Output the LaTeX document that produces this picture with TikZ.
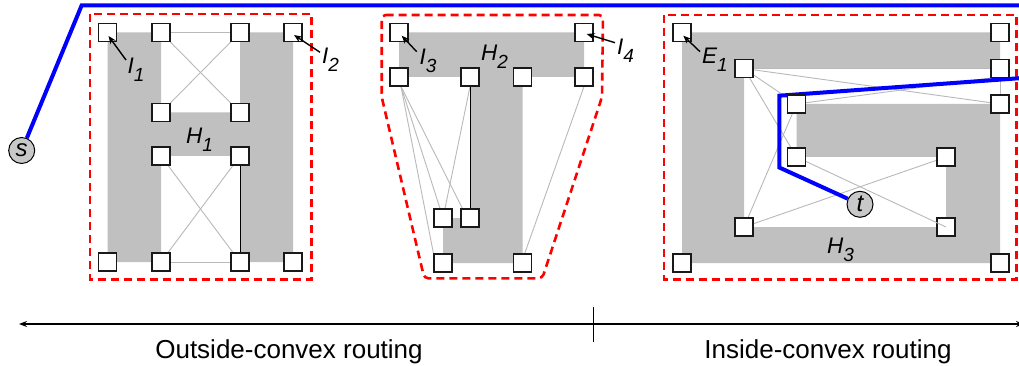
\documentclass[tikz,border=0pt]{standalone}
\usepackage{fontspec}
\setmainfont{Liberation Sans}
\usetikzlibrary{arrows.meta,calc}
\pgfdeclarelayer{bg}
\pgfdeclarelayer{edges}
\pgfdeclarelayer{front}
\pgfsetlayers{bg,edges,main,front}
% italic label with a lowered index, e.g. I_1
\newcommand{\sublab}[2]{\fontsize{22.5}{22.5}\selectfont\itshape #1\raisebox{-8pt}{\fontsize{19}{19}\selectfont #2}}
\definecolor{obst}{RGB}{192,192,192}
\definecolor{vis}{RGB}{185,185,185}
\definecolor{route}{RGB}{0,0,255}
\definecolor{hull}{RGB}{255,0,0}
\definecolor{term}{RGB}{200,200,200}
\begin{document}
\begin{tikzpicture}[x=1pt,y=-1pt,
  vtx/.style={draw=black!90,fill=white,minimum size=18pt,inner sep=0pt,line width=1.1pt},
  obstacle/.style={fill=obst,draw=none},
  hullline/.style={draw=hull,line width=2.6pt,dash pattern=on 8pt off 5pt},
  visedge/.style={draw=vis,line width=0.9pt},
  tightedge/.style={draw=black,line width=1pt},
  routeline/.style={draw=route,line width=4pt},
  terminal/.style={circle,draw=black,fill=term,line width=1pt,minimum size=26pt,inner sep=0pt,font=\fontsize{24}{24}\selectfont\itshape},
  tag/.style={inner sep=0pt,anchor=base west},
  pointer/.style={draw=black,line width=1.4pt,-{Stealth[length=8pt,width=6.5pt]}},
  caption/.style={font=\fontsize{26}{26}\selectfont,anchor=base,inner sep=0pt},
  axis/.style={draw=black,line width=1.3pt}
]
\useasboundingbox (0,0) rectangle (1019,366);
\begin{pgfonlayer}{bg}
  \fill[white] (0,0) rectangle (1019,366);
\end{pgfonlayer}

% ---------- obstacle H1 vertices ----------
\node[vtx] (L1)  at (107.5,32.5) {};
\node[vtx] (L2)  at (161,32.5) {};
\node[vtx] (L3)  at (240,32.5) {};
\node[vtx] (L4)  at (293,32.5) {};
\node[vtx] (L5)  at (161,112.5) {};
\node[vtx] (L6)  at (240,112.5) {};
\node[vtx] (L7)  at (161,156) {};
\node[vtx] (L8)  at (240,156) {};
\node[vtx] (L9)  at (107.5,262) {};
\node[vtx] (L10) at (161,262) {};
\node[vtx] (L11) at (240,262) {};
\node[vtx] (L12) at (293,262) {};

% ---------- obstacle H2 vertices ----------
\node[vtx] (M1)  at (399,32.5) {};
\node[vtx] (M2)  at (584,32.5) {};
\node[vtx] (M3)  at (399,77) {};
\node[vtx] (M4)  at (470,77) {};
\node[vtx] (M5)  at (522.7,77) {};
\node[vtx] (M6)  at (584,77) {};
\node[vtx] (M7)  at (443,218) {};
\node[vtx] (M8)  at (470,218) {};
\node[vtx] (M9)  at (443,263) {};
\node[vtx] (M10) at (522.7,263) {};

% ---------- obstacle H3 vertices ----------
\node[vtx] (R1)  at (682,32.5) {};
\node[vtx] (R2)  at (1000,32.5) {};
\node[vtx] (R3)  at (744,68.5) {};
\node[vtx] (R4)  at (1000,68.5) {};
\node[vtx] (R5)  at (796.5,104) {};
\node[vtx] (R6)  at (1000,104) {};
\node[vtx] (R7)  at (796.5,157) {};
\node[vtx] (R8)  at (946,157) {};
\node[vtx] (R9)  at (744,227) {};
\node[vtx] (R10) at (946,227) {};
\node[vtx] (R11) at (682,263) {};
\node[vtx] (R12) at (1000,263) {};

% ---------- obstacles and hulls ----------
\begin{pgfonlayer}{bg}
  \fill[obstacle] (L1.center) -- (L2.center) -- (L5.center) -- (L6.center) -- (L3.center) -- (L4.center)
    -- (L12.center) -- (L11.center) -- (L8.center) -- (L7.center) -- (L10.center) -- (L9.center) -- cycle;
  \fill[obstacle] (M1.center) -- (M2.center) -- (M6.center) -- (M5.center) -- (M10.center) -- (M9.center)
    -- (M7.center) -- (M8.center) -- (M4.center) -- (M3.center) -- cycle;
  \fill[obstacle] (R1.center) -- (R2.center) -- (R4.center) -- (R3.center) -- (R9.center) -- (R10.center)
    -- (R8.center) -- (R7.center) -- (R5.center) -- (R6.center) -- (R12.center) -- (R11.center) -- cycle;
  \draw[hullline] (90,14) rectangle (311.7,279.3);
  \draw[hullline,rounded corners=4pt] (381.7,15) -- (603,15) -- (602,97) -- (542.3,278.3)
    -- (424.3,278.3) -- (381.7,97) -- cycle;
  \draw[hullline] (664,15) rectangle (1016.7,279.3);
\end{pgfonlayer}

% ---------- visibility edges ----------
\begin{pgfonlayer}{edges}
  \draw[visedge] (L2) -- (L3);
  \draw[visedge] (L2) -- (L6);
  \draw[visedge] (L3) -- (L5);
  \draw[visedge] (L7) -- (L11);
  \draw[visedge] (L8) -- (L10);
  \draw[visedge] (L10) -- (L11);
  \draw[tightedge] (L8) -- (L11);

  \draw[visedge] ([xshift=2pt]M3.south) -- (M9.north west);
  \draw[visedge] ([xshift=2pt]M3.south) -- ([xshift=-3pt]M7.north);
  \draw[visedge] ([xshift=2pt]M3.south) -- ([xshift=2pt]M8.north west);
  \draw[visedge] (M4.south) -- ([xshift=2pt]M7.north);
  \draw[tightedge] (M4) -- (M8);
  \draw[visedge] (M6.south) -- ([xshift=2pt]M10.north);

  \draw[visedge] (R3) -- (R4);
  \draw[visedge] (R3) -- (R6);
  \draw[visedge] (R3) -- (R5);
  \draw[visedge] (R3) -- (R7);
  \draw[visedge] (R5) -- (R9);
  \draw[visedge] (R5) -- (R4.south west);
  \draw[visedge] (R4) -- (R6);
  \draw[visedge] (R8) -- (R9);
\end{pgfonlayer}
\begin{pgfonlayer}{front}
  \draw[visedge] (R7) -- (R10.center);
\end{pgfonlayer}

% ---------- route from s to t ----------
\node[terminal] (s) at (21.7,150.5) {s};
\node[terminal] (t) at (860,204.3) {t};
\coordinate (b1) at (81.7,5.3);
\coordinate (exitR) at (1025,5.3);
\coordinate (entryR) at (1025,77.8);
\coordinate (b2) at (779.3,95.7);
\coordinate (b3) at (779.3,167.5);
\begin{pgfonlayer}{edges}
  \draw[routeline] (s) -- (b1) -- (exitR);
  \draw[routeline] (entryR) -- (b2) -- (b3) -- (t);
\end{pgfonlayer}

% ---------- labels ----------
\node[tag] (lI1) at (127.5,74) {\sublab{I}{1}};
\node[tag] (lI2) at (322,63.3) {\sublab{I}{2}};
\node[tag] (lI3) at (419.5,65) {\sublab{I}{3}};
\node[tag] (lI4) at (617,55) {\sublab{I}{4}};
\node[tag] (lH1) at (186,143.3) {\sublab{H}{1}};
\node[tag] (lH2) at (481,61) {\sublab{H}{2}};
\node[tag] (lE1) at (702,63.3) {\sublab{E}{1}};
\node[tag] (lH3) at (827,253) {\sublab{H}{3}};

\coordinate (pI1) at (126,60);
\coordinate (pI2) at (320,52.3);
\coordinate (pI3) at (416.7,51.7);
\coordinate (pI4) at (615,42.7);
\coordinate (pE1) at (700,51.7);
\draw[pointer] (pI1) -- ($(L1.center)+(1,3.5)$);
\draw[pointer] (pI2) -- ($(L4.center)+(1,2.5)$);
\draw[pointer] (pI3) -- ($(M1.center)+(2.7,3.2)$);
\draw[pointer] (pI4) -- ($(M2.center)+(2.7,1.5)$);
\draw[pointer] (pE1) -- ($(R1.center)+(1.3,3.2)$);

% ---------- routing-range axis ----------
\coordinate (axL) at (19,324);
\coordinate (axR) at (1024,324);
\coordinate (dv1) at (593,307);
\coordinate (dv2) at (593,342);
\draw[axis,{Stealth[length=8pt,width=6pt]}-{Stealth[length=8pt,width=6pt]}] (axL) -- (axR);
\draw[axis,line width=1pt] (dv1) -- (dv2);
\node[caption] (cap1) at (289,358) {Outside-convex routing};
\node[caption] (cap2) at (828,358) {Inside-convex routing};
\end{tikzpicture}
\end{document}
